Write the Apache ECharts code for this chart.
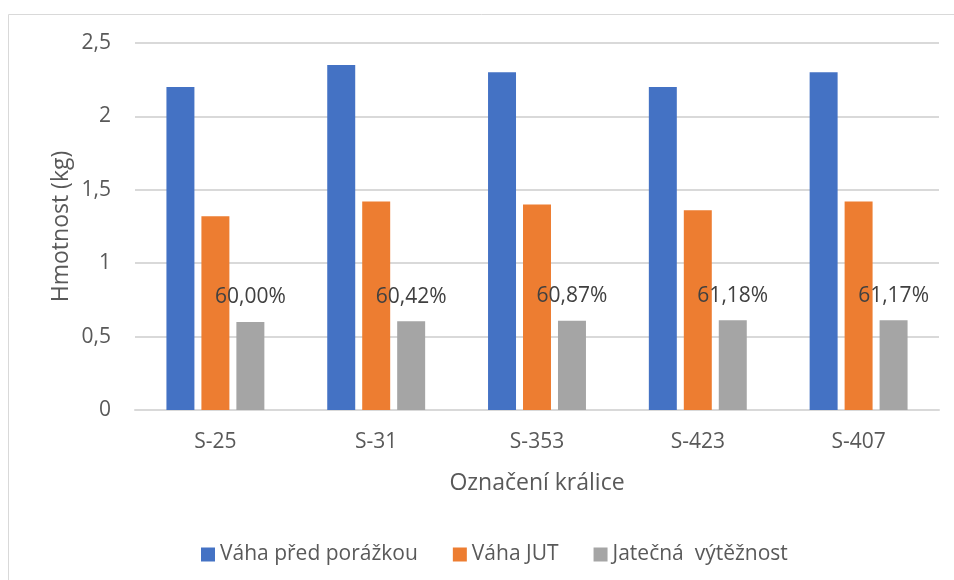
<!DOCTYPE html>
<html>
<head>
<meta charset="utf-8">
<script src="https://cdn.jsdelivr.net/npm/echarts@6/dist/echarts.min.js"></script>
<style>
  html, body { margin: 0; padding: 0; background: #fff; }
  #chart { width: 954px; height: 580px; }
</style>
</head>
<body>
<div id="chart"></div>
<script>
var categories = ['S-25', 'S-31', 'S-353', 'S-423', 'S-407'];
var vahaPred = [2.2, 2.35, 2.3, 2.2, 2.3];
var vahaJUT = [1.32, 1.42, 1.40, 1.36, 1.42];
var vyteznost = [0.6000, 0.6042, 0.6087, 0.6118, 0.6117];
var yTicks = [0, 0.5, 1, 1.5, 2, 2.5];

var textColor = '#595959';
var font = 'Open Sans';

function comma(v) {
    return String(v).replace('.', ',');
}

var chart = echarts.init(document.getElementById('chart'));

var option = {
    animation: false,
    textStyle: { fontFamily: font, color: textColor },
    graphic: [
        {
            type: 'rect',
            shape: { x: 8.5, y: 14.5, width: 1200, height: 1200 },
            style: { fill: 'none', stroke: '#d9d9d9', lineWidth: 1 }
        }
    ],
    legend: {
        bottom: 10,
        left: 196,
        itemWidth: 14,
        itemHeight: 14,
        itemGap: 35,
        icon: 'rect',
        textStyle: { fontSize: 21, color: textColor, fontFamily: font },
        data: ['Váha před porážkou', 'Váha JUT', 'Jatečná  výtěžnost']
    },
    grid: {
        left: 135,
        right: 15,
        top: 43,
        bottom: 170
    },
    xAxis: {
        type: 'category',
        data: categories,
        name: 'Označení králice',
        nameLocation: 'middle',
        nameGap: 62,
        nameTextStyle: { fontSize: 23, color: textColor },
        axisLine: { lineStyle: { color: '#d9d9d9', width: 2 } },
        axisTick: { show: false },
        axisLabel: { fontSize: 21, color: textColor, margin: 22 }
    },
    yAxis: {
        type: 'value',
        min: yTicks[0],
        max: yTicks[yTicks.length - 1],
        interval: 0.5,
        name: 'Hmotnost (kg)',
        nameLocation: 'middle',
        nameGap: 62,
        nameMoveOverlap: false,
        nameTextStyle: { fontSize: 23, color: textColor },
        axisLine: { show: false },
        axisTick: { show: false },
        splitLine: { lineStyle: { color: '#d9d9d9', width: 2 } },
        axisLabel: {
            fontSize: 21,
            color: textColor,
            margin: 24,
            formatter: function (v) { return comma(v); }
        }
    },
    series: [
        {
            name: 'Váha před porážkou',
            type: 'bar',
            data: vahaPred,
            barWidth: '17.4%',
            barGap: '25%',
            itemStyle: { color: '#4472C4' }
        },
        {
            name: 'Váha JUT',
            type: 'bar',
            data: vahaJUT,
            barWidth: '17.4%',
            barGap: '25%',
            itemStyle: { color: '#ED7D31' }
        },
        {
            name: 'Jatečná  výtěžnost',
            type: 'bar',
            data: vyteznost,
            barWidth: '17.4%',
            barGap: '25%',
            itemStyle: { color: '#A5A5A5' },
            label: {
                show: true,
                position: 'top',
                distance: 14,
                fontSize: 21,
                color: '#404040',
                fontFamily: font,
                formatter: function (p) {
                    return (p.value * 100).toFixed(2).replace('.', ',') + '%';
                }
            }
        }
    ]
};

chart.setOption(option);
</script>
</body>
</html>
